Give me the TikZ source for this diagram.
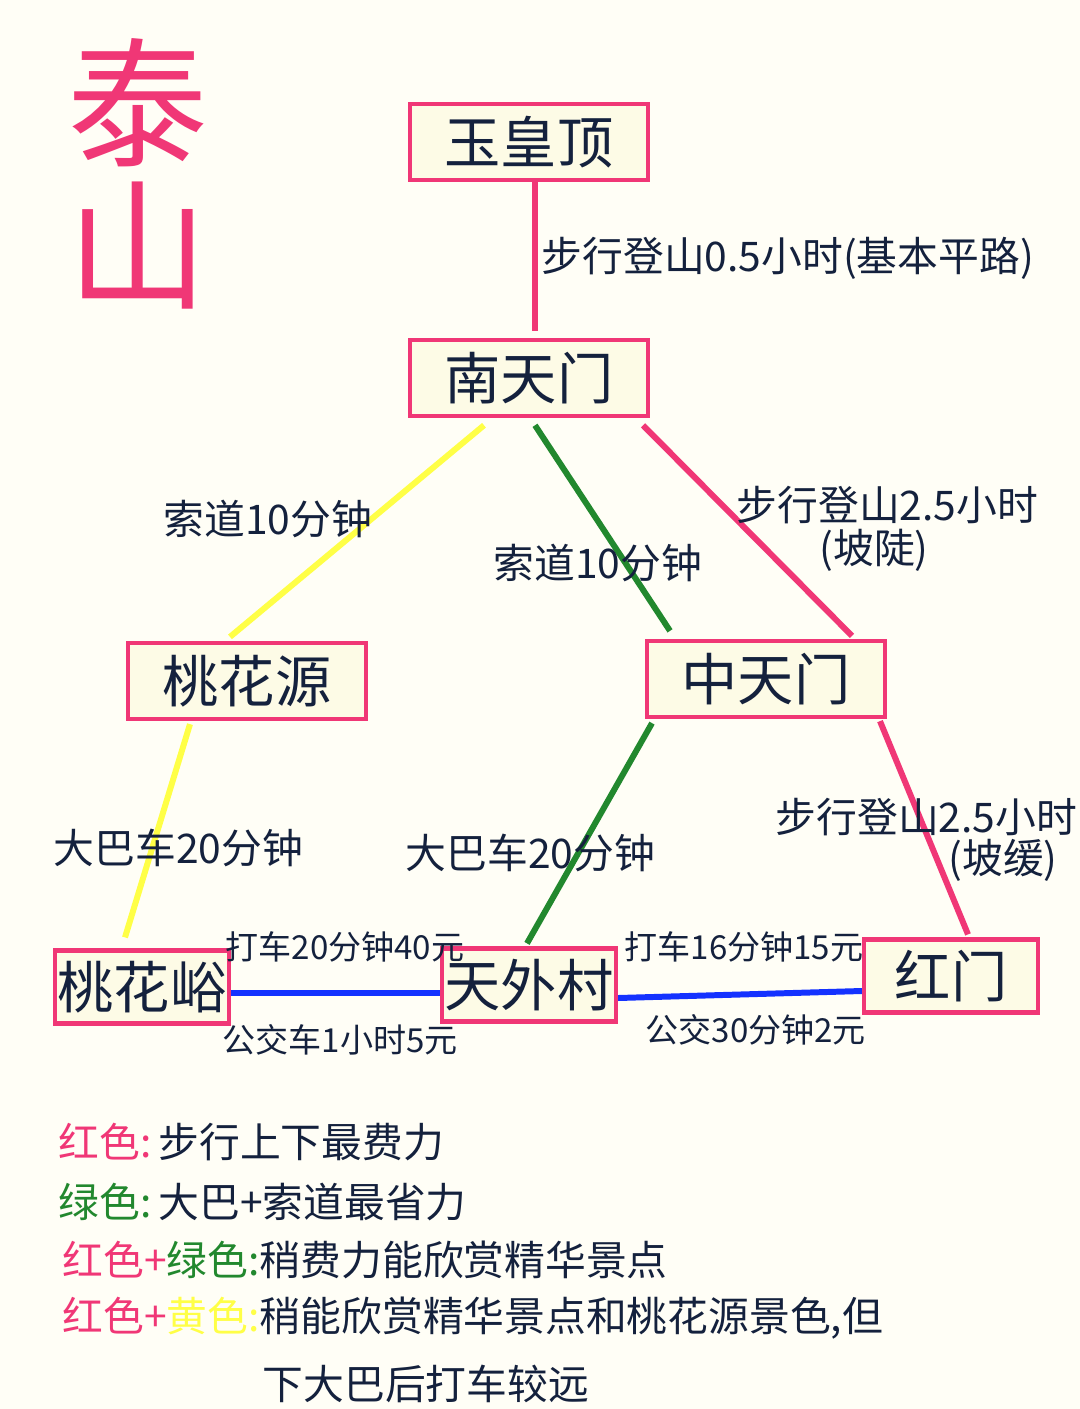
\documentclass[tikz,border=0pt]{standalone}
\usepackage{fontspec}
\setmainfont{Noto Sans CJK SC}
\usetikzlibrary{calc}

\definecolor{bgcream}{RGB}{255,254,246}
\definecolor{boxfill}{RGB}{253,251,230}
\definecolor{tsred}{RGB}{240,55,118}
\definecolor{tsyellow}{RGB}{255,255,70}
\definecolor{tsgreen}{RGB}{34,136,46}
\definecolor{tsblue}{RGB}{20,50,255}
\definecolor{ink}{RGB}{20,33,61}

\begin{document}
\begin{tikzpicture}[x=0.01cm,y=-0.01cm]
  \tikzstyle{spot}=[draw=tsred,line width=1.2pt,fill=boxfill,text=ink,inner sep=0pt,minimum width=2.38cm,minimum height=0.76cm,font=\fontsize{16}{18}\selectfont]
  \tikzstyle{spotsmall}=[spot,minimum width=1.74cm,minimum height=0.73cm]
  \tikzstyle{route}=[text=ink,inner sep=0pt,anchor=west,font=\fontsize{11.6}{16}\selectfont]
  \tikzstyle{fare}=[route,font=\fontsize{9.4}{12}\selectfont]
  \tikzstyle{note}=[route,font=\fontsize{11.6}{16}\selectfont]
  \tikzstyle{walk}=[draw=tsred,line width=1.7pt]
  \tikzstyle{cable}=[line width=1.7pt]
  \tikzstyle{bus}=[draw=tsblue,line width=1.7pt]

  \fill[bgcream] (0,0) rectangle (1080,1409);
  \useasboundingbox (0,0) rectangle (1080,1409);

  % title
  \node[text=tsred,inner sep=0pt,font=\fontsize{40}{40}\selectfont] (tai) at (138,103) {泰};
  \node[text=tsred,inner sep=0pt,font=\fontsize{40}{40}\selectfont,below of=tai,node distance=1.42cm] (shan) {山};

  % spots
  \node[spot] (ydd) at (529,142) {玉皇顶};
  \node[spot,below of=ydd,node distance=2.36cm] (ntm) {南天门};
  \node[spot] (thy) at (247,681) {桃花源};
  \node[spot] (ztm) at (766,679) {中天门};
  \node[spotsmall] (thyu) at (142,987) {桃花峪};
  \node[spotsmall] (twc) at (529,985) {天外村};
  \node[spotsmall] (hm) at (951,976) {红门};

  % edges
  \draw[walk] ($(ydd.south)+(6,0)$) -- ($(ntm.north)+(6,-7)$);
  \draw[cable,draw=tsyellow] ($(ntm.south)+(-45,7)$) -- ($(thy.north)+(-17,-4)$);
  \draw[cable,draw=tsgreen] ($(ntm.south)+(6,7)$) -- ($(ztm.north)+(-96,-8)$);
  \draw[walk] ($(ntm.south)+(114,7)$) -- ($(ztm.north)+(86,-3)$);
  \draw[cable,draw=tsyellow] ($(thy.south)+(-57,3)$) -- ($(thyu.north)+(-17,-11)$);
  \draw[cable,draw=tsgreen] ($(ztm.south)+(-114,4)$) -- ($(twc.north)+(-2,-3)$);
  \draw[walk] ($(ztm.south)+(114,2)$) -- ($(hm.north)+(17,-3)$);
  \draw[bus] ($(thyu.east)+(0,6)$) -- ($(twc.west)+(0,8)$);
  \draw[bus] ($(twc.east)+(0,13)$) -- ($(hm.west)+(0,15)$);

  % edge labels
  \node[route] (l1) at (541,258) {步行登山0.5小时(基本平路)};
  \node[route] (l2) at (163,519) {索道10分钟};
  \node[route] (l3) at (493,563) {索道10分钟};
  \node[route] (l4) at (736,505) {步行登山2.5小时};
  \node[route,anchor=center] (l4b) at (874,550) {(坡陡)};
  \node[route] (l5) at (53,848) {大巴车20分钟};
  \node[route] (l6) at (405,853) {大巴车20分钟};
  \node[route] (l7) at (775,817) {步行登山2.5小时};
  \node[route,anchor=center] (l7b) at (1003,860) {(坡缓)};
  \node[fare] (f1) at (225,947) {打车20分钟40元};
  \node[fare] (f2) at (222,1040) {公交车1小时5元};
  \node[fare] (f3) at (624,947) {打车16分钟15元};
  \node[fare] (f4) at (645,1030) {公交30分钟2元};

  % legend
  \node[note] (k1) at (58,1142) {{\color{tsred}红色:}\,步行上下最费力};
  \node[note] (k2) at (58,1202) {{\color{tsgreen}绿色:}\,大巴+索道最省力};
  \node[note] (k3) at (62,1260) {{\color{tsred}红色+}{\color{tsgreen}绿色:}稍费力能欣赏精华景点};
  \node[note] (k4) at (62,1318) {{\color{tsred}红色+}{\color{tsyellow}黄色:}稍能欣赏精华景点和桃花源景色,但};
  \node[note] (k5) at (262,1384) {下大巴后打车较远};
\end{tikzpicture}
\end{document}
